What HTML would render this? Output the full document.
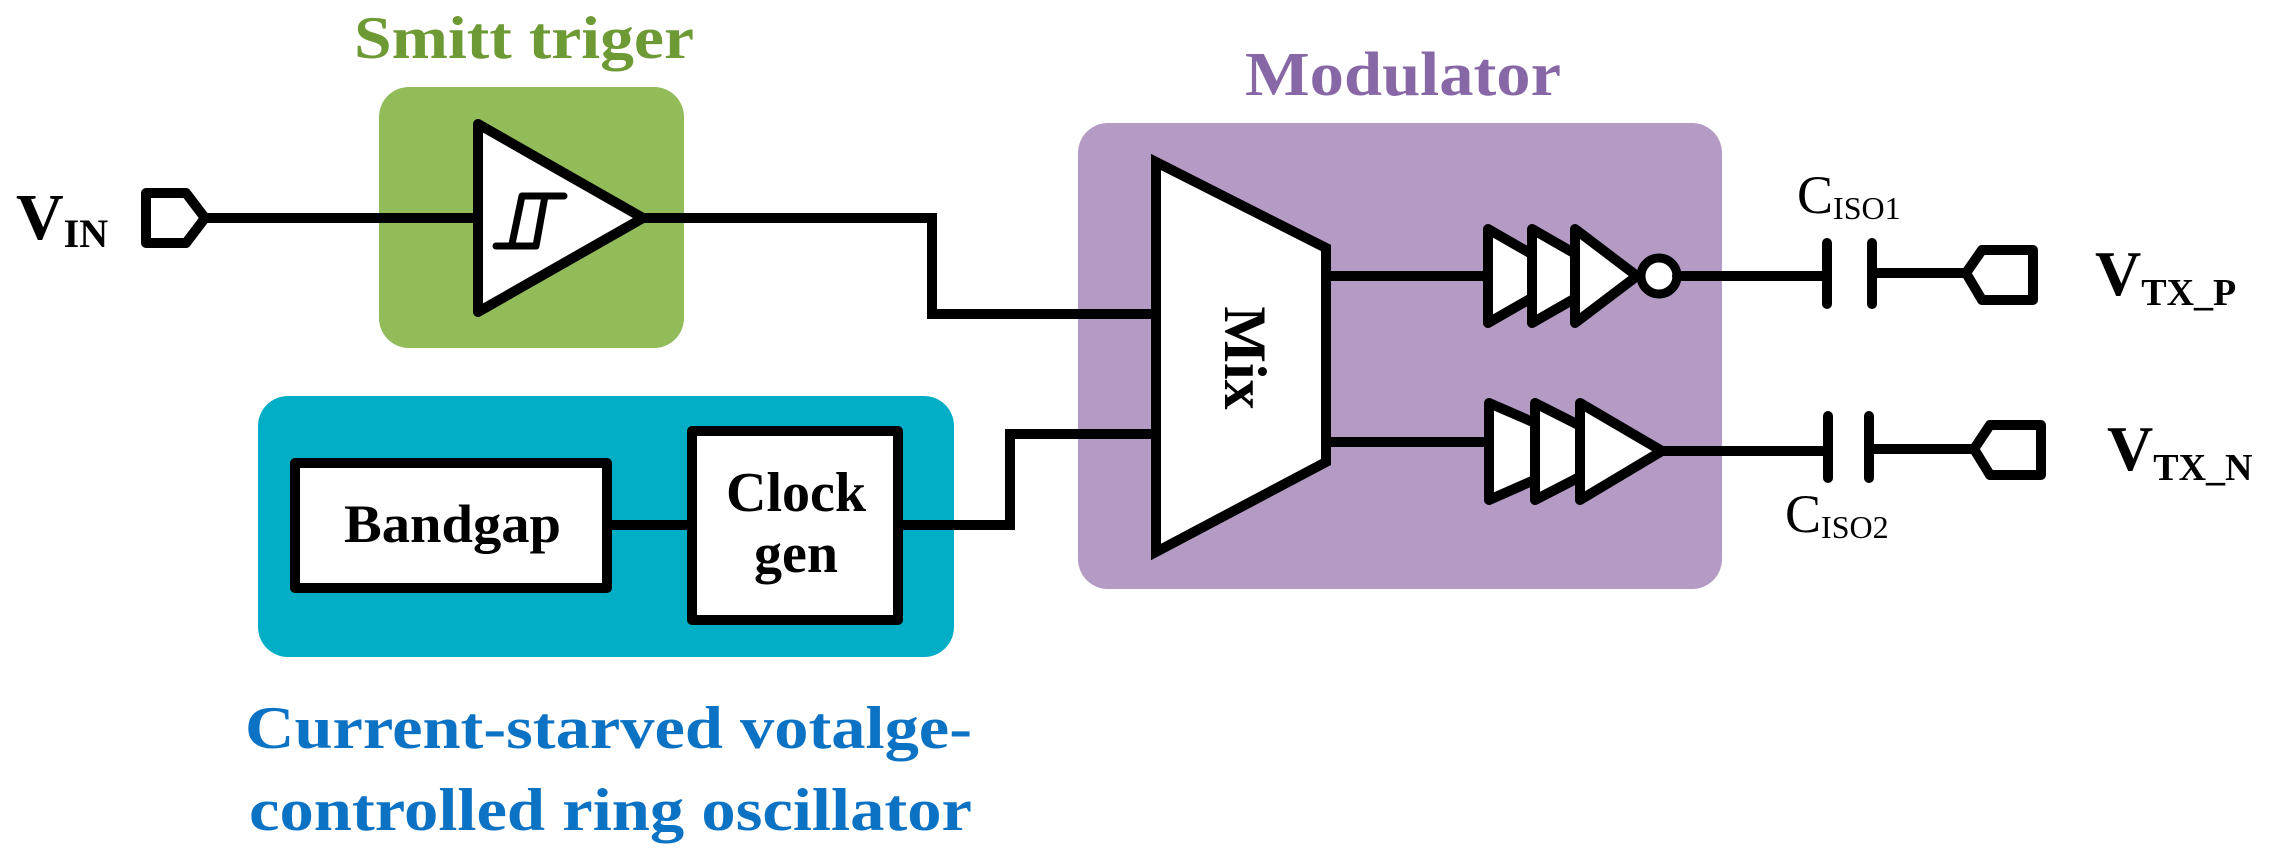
<!DOCTYPE html>
<html><head><meta charset="utf-8"><style>
html,body{margin:0;padding:0;background:#fff;}
svg{display:block;}
text{font-family:"Liberation Serif",serif;font-weight:bold;}
</style></head><body>
<svg width="2283" height="862" viewBox="0 0 2283 862" xmlns="http://www.w3.org/2000/svg">
<rect x="379" y="87" width="305" height="261" rx="30" fill="#92BB5A"/>
<rect x="258" y="396" width="696" height="261" rx="30" fill="#02ADC6"/>
<rect x="1078" y="123" width="644" height="466" rx="30" fill="#B39BC4"/>

<text x="354" y="58" font-size="60" fill="#6E9A35" textLength="340" lengthAdjust="spacingAndGlyphs">Smitt triger</text>
<text x="1245" y="95" font-size="62" fill="#8767A6" textLength="316" lengthAdjust="spacingAndGlyphs">Modulator</text>
<text x="245" y="748" font-size="60" fill="#0B72C4" textLength="727" lengthAdjust="spacingAndGlyphs">Current-starved votalge-</text>
<text x="249" y="830" font-size="60" fill="#0B72C4" textLength="723" lengthAdjust="spacingAndGlyphs">controlled ring oscillator</text>

<g stroke="#000" stroke-width="10" fill="none" stroke-linejoin="round" stroke-linecap="round">
<path d="M146 193 L186 193 L205 218 L186 243 L146 243 Z" fill="#fff"/>
<line x1="205" y1="218" x2="478" y2="218"/>
<path d="M478 124 L643 218 L478 312 Z" fill="#fff"/>
<path d="M522 196 L564 196 M522 196 L512 244 M545 196 L536 246 L496 246" stroke-width="7"/>
<path d="M643 218 L932 218 L932 314 L1156 314" stroke-linejoin="miter" stroke-linecap="butt"/>
<rect x="295" y="463" width="312" height="125" fill="#fff"/>
<rect x="692" y="431" width="206" height="189" fill="#fff"/>
<line x1="607" y1="525" x2="692" y2="525"/>
<path d="M898 525 L1010 525 L1010 434 L1156 434" stroke-linejoin="miter" stroke-linecap="butt"/>
<path d="M1156 162 L1326 248 L1326 462 L1156 552 Z" fill="#fff" stroke-linejoin="miter"/>
<line x1="1326" y1="276" x2="1488" y2="276"/>
<line x1="1326" y1="442" x2="1489" y2="442"/>
<path d="M1488 229 L1570 276 L1488 323 Z" fill="#fff"/>
<path d="M1532 229 L1614 276 L1532 323 Z" fill="#fff"/>
<path d="M1575 229 L1637 276 L1575 323 Z" fill="#fff"/>
<circle cx="1659" cy="276" r="18" fill="#fff" stroke-width="9"/>
<line x1="1677" y1="276" x2="1827" y2="276"/>
<path d="M1489 403 L1600 451 L1489 500 Z" fill="#fff"/>
<path d="M1535 403 L1630 451 L1535 500 Z" fill="#fff"/>
<path d="M1580 403 L1662 451 L1580 500 Z" fill="#fff"/>
<line x1="1662" y1="451" x2="1827" y2="451"/>
<line x1="1827" y1="243" x2="1827" y2="304"/>
<line x1="1872" y1="243" x2="1872" y2="304"/>
<line x1="1872" y1="273" x2="1966" y2="273"/>
<path d="M1966 273 L1982 250 L2033 250 L2033 300 L1982 300 Z" fill="#fff"/>
<line x1="1828" y1="416" x2="1828" y2="478"/>
<line x1="1869" y1="416" x2="1869" y2="478"/>
<line x1="1869" y1="449" x2="1974" y2="449"/>
<path d="M1974 449 L1990 425 L2041 425 L2041 475 L1990 475 Z" fill="#fff"/>
</g>

<text x="344" y="542" font-size="54" fill="#000" textLength="217" lengthAdjust="spacingAndGlyphs">Bandgap</text>
<text x="726" y="511" font-size="56" fill="#000" textLength="140" lengthAdjust="spacingAndGlyphs">Clock</text>
<text x="796" y="572" font-size="56" fill="#000" text-anchor="middle">gen</text>
<text x="0" y="0" font-size="60" fill="#000" text-anchor="middle" transform="translate(1225 358) rotate(90)">Mix</text>

<text x="16" y="239" font-size="66" fill="#000">V<tspan font-size="40" dy="8">IN</tspan></text>
<text x="1797" y="213" font-size="54" fill="#000" style="font-weight:normal">C<tspan font-size="32" dy="6">ISO1</tspan></text>
<text x="1785" y="532" font-size="54" fill="#000" style="font-weight:normal">C<tspan font-size="32" dy="6">ISO2</tspan></text>
<text x="2095" y="295" font-size="64" fill="#000">V<tspan font-size="38" dy="10">TX_P</tspan></text>
<text x="2107" y="470" font-size="64" fill="#000">V<tspan font-size="38" dy="10">TX_N</tspan></text>
</svg>
</body></html>
